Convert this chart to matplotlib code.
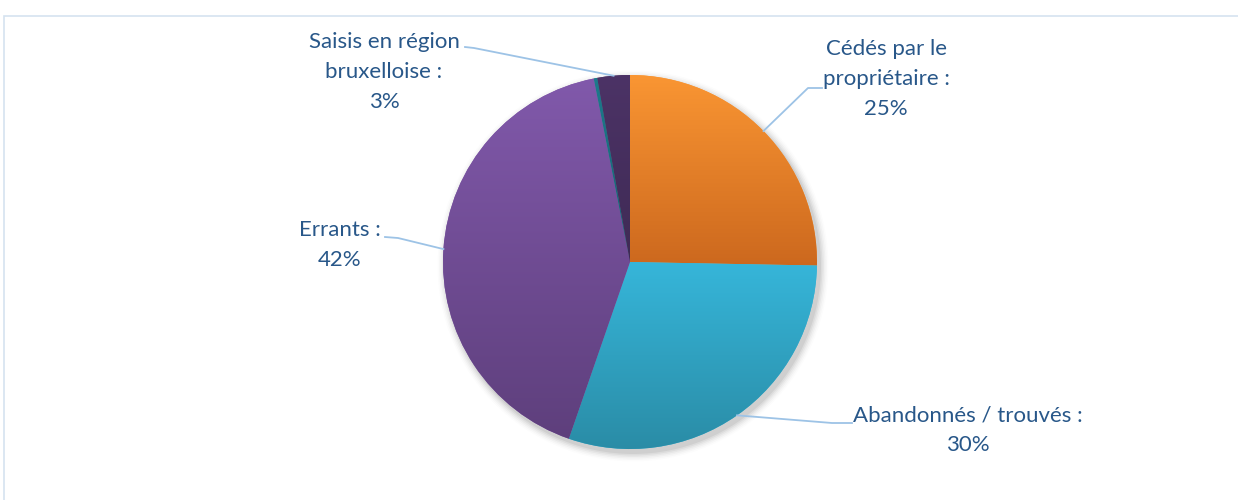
import matplotlib
matplotlib.use("Agg")
import matplotlib.pyplot as plt
import numpy as np
from matplotlib.patches import Rectangle

# data
labels = ["Cédés par le\npropriétaire :", "Abandonnés / trouvés :", "Errants :", "", "Saisis en région\nbruxelloise :"]
values = [25.3, 30.0, 41.6, 0.3, 2.8]
top_colors = ["#FA9633", "#36B6DA", "#8159AB", "#1E7A8C", "#4C3366"]
bot_colors = ["#CC681E", "#2A8CA6", "#5E3F7C", "#175F6E", "#3F2A55"]

# label placement (pixels, y from top) and elbow of leader line
label_pos = [(886, 79), (968, 430), (340, 245), None, (384, 72)]
elbows = [[(822, 88), (808, 88)], [(852, 423), (832, 423)], [(385, 237), (398, 238)], None, [(465, 47), (474, 48)]]

W, H = 1238, 500
cx, cy, R = 630, 262, 187
text_col = "#285789"
line_col = "#9DC3E6"

fig = plt.figure(figsize=(W / 100, H / 100), dpi=100)
ax = fig.add_axes([0, 0, 1, 1])

# soft shadow
for i, a in enumerate(np.linspace(0.05, 0.01, 6)):
    ax.add_patch(plt.Circle((cx + 3, H - cy - 4), R + 1 + i * 1.5, color="black", alpha=a, lw=0, zorder=1))

wedges, _ = ax.pie(values, center=(cx, H - cy), radius=R, startangle=90, counterclock=False,
                   colors=top_colors, wedgeprops=dict(lw=0))
# vertical gradient inside each slice
for w, c1, c2 in zip(wedges, top_colors, bot_colors):
    w.set_zorder(2)
    bb = w.get_path().get_extents()
    grad = np.linspace(0, 1, 256).reshape(-1, 1)
    cmap = matplotlib.colors.LinearSegmentedColormap.from_list("g", [c1, c2])
    im = ax.imshow(grad, cmap=cmap, extent=(bb.x0 - 1, bb.x1 + 1, bb.y0 - 1, bb.y1 + 1),
                   origin="upper", aspect="auto", zorder=3)
    im.set_clip_path(w)

ax.set_xlim(0, W)
ax.set_ylim(0, H)
ax.set_aspect("equal")
ax.axis("off")

# labels and leader lines
for w, lab, v, pos, elb in zip(wedges, labels, values, label_pos, elbows):
    if pos is None:
        continue
    mid = np.deg2rad((w.theta1 + w.theta2) / 2)
    px, py = cx + R * np.cos(mid), (H - cy) + R * np.sin(mid)
    xs = [e[0] for e in elb] + [px]
    ys = [H - e[1] for e in elb] + [py]
    ax.plot(xs, ys, color=line_col, lw=1.3, zorder=4)
    ax.text(pos[0], H - pos[1], f"{lab}\n{round(v)}%", ha="center", va="center",
            fontsize=16, color=text_col, family="Lato", linespacing=1.6, zorder=5)

# chart border
ax.add_patch(Rectangle((3.5, -10), W + 20, H - 15.5 + 10, fill=False, ec="#D5E3F0", lw=1.2, zorder=0))

fig.savefig("out.png", dpi=100)
